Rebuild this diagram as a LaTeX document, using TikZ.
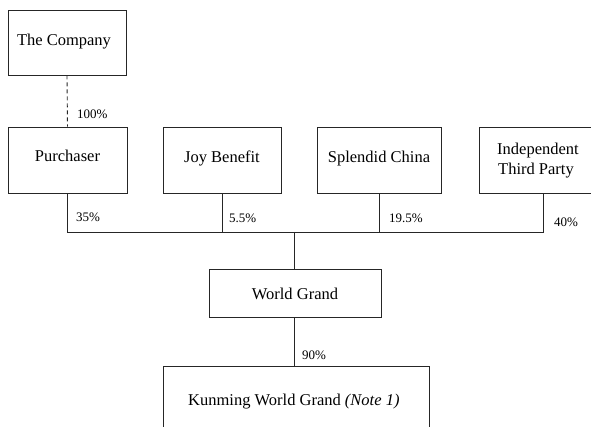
\documentclass[tikz,border=0pt]{standalone}
\usepackage{fontspec}
\setmainfont{Liberation Serif}
\begin{document}
\begin{tikzpicture}[x=1pt,y=-1pt,
  box/.style={draw=black!85,line width=0.9pt,rectangle,inner sep=0pt},
  boxtext/.style={inner sep=0pt,anchor=base,font=\fontsize{16.5}{19.5}\selectfont},
  pct/.style={inner sep=0pt,anchor=base west,font=\fontsize{13}{15}\selectfont},
  conn/.style={draw=black!85,line width=0.9pt}]
\useasboundingbox (0,0) rectangle (591,427);
\clip (0,0) rectangle (591,427);
% boxes
\node[box,minimum width=118pt,minimum height=65pt] (comp) at (67,42.5) {};
\node[box,minimum width=119pt,minimum height=66pt] (purch) at (67.5,160) {};
\node[box,minimum width=118pt,minimum height=66pt] (joy) at (222,160) {};
\node[box,minimum width=124pt,minimum height=66pt] (spl) at (379,160) {};
\node[box,minimum width=118pt,minimum height=66pt] (ind) at (538,160) {};
\node[box,minimum width=172pt,minimum height=48pt] (wg) at (295,293) {};
\node[box,minimum width=266pt,minimum height=80pt] (kwg) at (296,406) {};
% texts
\node[boxtext] (tcomp) at (64,45.5) {The Company};
\node[boxtext] (tpurch) at (67.5,162) {Purchaser};
\node[boxtext] (tjoy) at (222,163) {Joy Benefit};
\node[boxtext] (tspl) at (379,163) {Splendid China};
\node[boxtext,anchor=base west] (tind1) at (497,155) {Independent};
\node[boxtext,anchor=base west] (tind2) at (498,175) {Third Party};
\node[boxtext] (twg) at (295,299) {World Grand};
\node[boxtext,anchor=base west] (tkwg) at (188,405.5) {Kunming World Grand \textit{(Note 1)}};
% connectors
\coordinate (bus) at (294,232);
\coordinate (busL) at (67.5,232);
\coordinate (busR) at (543,232);
\draw[conn,dashed,dash pattern=on 4pt off 3pt] (comp.south) -- (purch.north);
\draw[conn] (purch.south) -- (busL) -- (busR) -- (ind.south -| busR);
\draw[conn] (joy.south) -- (joy.south |- bus);
\draw[conn] (spl.south) -- (spl.south |- bus);
\draw[conn] (bus) -- (wg.north -| bus);
\draw[conn] (wg.south -| bus) -- (kwg.north -| bus);
% percentages
\node[pct] (p100) at (77,119) {100\%};
\node[pct] (p35) at (76,222) {35\%};
\node[pct] (p55) at (229,223) {5.5\%};
\node[pct] (p195) at (389,223) {19.5\%};
\node[pct] (p40) at (554,227) {40\%};
\node[pct] (p90) at (302,359) {90\%};
\end{tikzpicture}
\end{document}
